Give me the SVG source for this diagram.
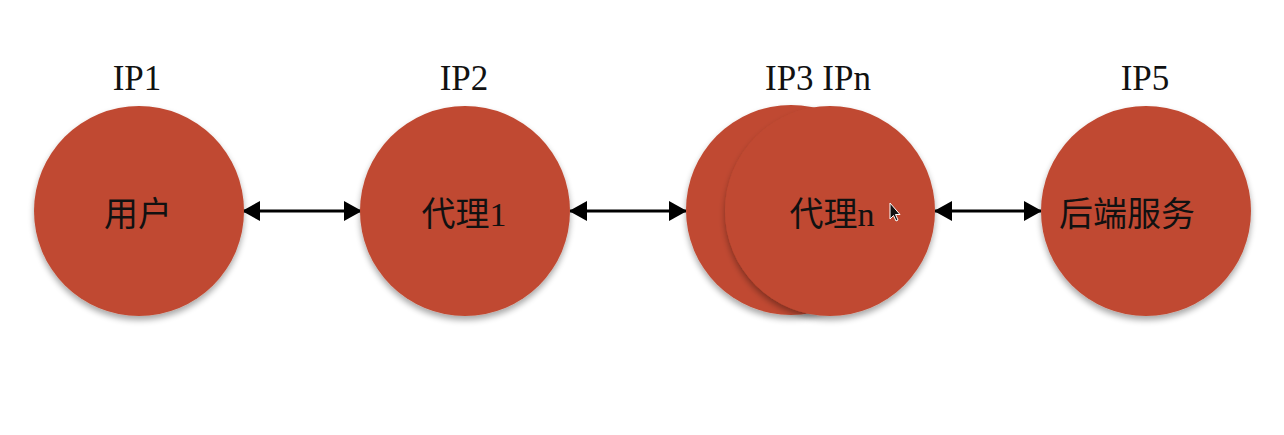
<svg xmlns="http://www.w3.org/2000/svg" width="1284" height="435" viewBox="0 0 1284 435">
  <style>
    .node { fill: #c04a32; filter: url(#shadow); }
    .ip { font-family: "Liberation Serif", "Noto Sans CJK SC", serif; font-size: 35px; fill: #111; text-anchor: middle; }
    .lbl { font-family: "Liberation Serif", "Noto Sans CJK SC", serif; font-size: 34px; fill: #111; text-anchor: middle; }
    .conn { stroke: #000; stroke-width: 3; fill: none; marker-start: url(#ah); marker-end: url(#ah); }
  </style>
  <defs>
    <filter id="shadow" x="-20%" y="-20%" width="140%" height="150%">
      <feGaussianBlur in="SourceAlpha" stdDeviation="3"/>
      <feOffset dx="0" dy="4" result="b"/>
      <feComponentTransfer><feFuncA type="linear" slope="0.35"/></feComponentTransfer>
      <feMerge><feMergeNode/><feMergeNode in="SourceGraphic"/></feMerge>
    </filter>
    <marker id="ah" viewBox="0 0 18 20" refX="17" refY="10" markerWidth="18" markerHeight="20" markerUnits="userSpaceOnUse" orient="auto-start-reverse">
      <path d="M0,0 L18,10 L0,20 Z" fill="#000"/>
    </marker>
  </defs>
  <rect width="1284" height="435" fill="#fff"/>

  <g id="connectors">
    <line class="conn" x1="243" y1="211" x2="361" y2="211"/>
    <line class="conn" x1="570" y1="211" x2="686" y2="211"/>
    <line class="conn" x1="935" y1="211" x2="1041" y2="211"/>
  </g>

  <g id="node-user">
    <circle class="node" cx="139" cy="211" r="105"/>
    <text class="ip" x="137" y="90">IP1</text>
    <text class="lbl" x="138" y="226">用户</text>
  </g>

  <g id="node-proxy1">
    <circle class="node" cx="465" cy="211" r="105"/>
    <text class="ip" x="464" y="90">IP2</text>
    <text class="lbl" x="464" y="226">代理1</text>
  </g>

  <g id="node-proxy3">
    <circle class="node" cx="791" cy="210" r="105"/>
  </g>

  <g id="node-proxyn">
    <circle class="node" cx="830" cy="211" r="105"/>
    <text class="ip" x="818" y="90">IP3 IPn</text>
    <text class="lbl" x="832" y="226">代理n</text>
    <path d="M890,203 L890,219 L893.5,215.5 L896,221 L898,220 L895.5,214.5 L900,214.5 Z" fill="#111" stroke="#fff" stroke-width="1"/>
  </g>

  <g id="node-backend">
    <circle class="node" cx="1146" cy="211" r="105"/>
    <text class="ip" x="1145" y="90">IP5</text>
    <text class="lbl" x="1127" y="226">后端服务</text>
  </g>
</svg>
